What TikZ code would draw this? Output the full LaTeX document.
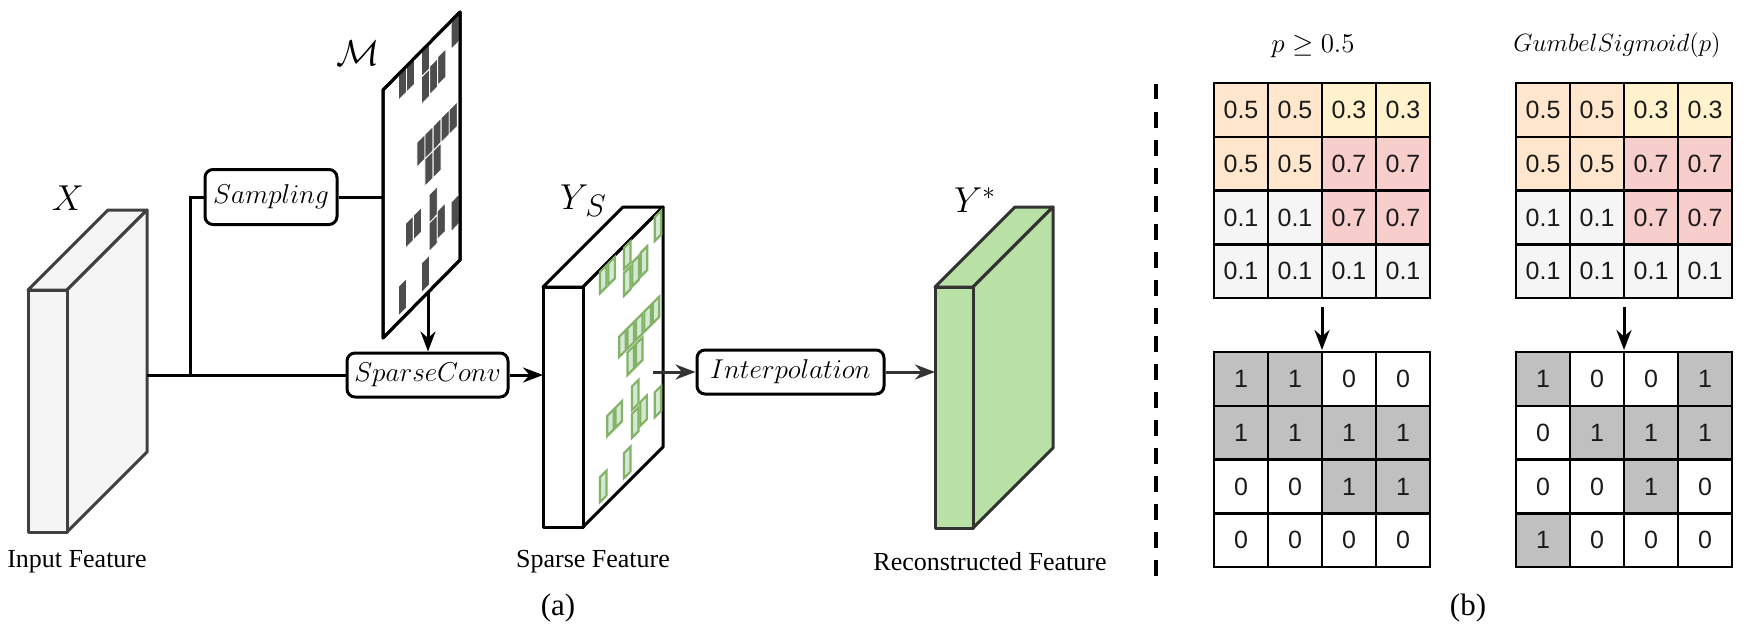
\RequirePackage{fix-cm}
\documentclass[tikz,border=0pt]{standalone}
\usepackage{fontspec}
\setmainfont{Liberation Serif}
\newfontfamily\cellfont{Liberation Sans}
\usetikzlibrary{arrows.meta}
\definecolor{xfill}{HTML}{F5F5F5}
\definecolor{boxgray}{HTML}{404040}
\definecolor{yfill}{HTML}{B9E0A5}
\definecolor{ystroke}{HTML}{333333}
\definecolor{tilefill}{HTML}{D5E8D4}
\definecolor{tiledraw}{HTML}{82B366}
\definecolor{mtile}{HTML}{4D4D4D}
\definecolor{cOr}{HTML}{FFE6CC}
\definecolor{cYe}{HTML}{FFF2CC}
\definecolor{cRe}{HTML}{F8CECC}
\definecolor{cGr}{HTML}{F5F5F5}
\definecolor{cOn}{HTML}{C0C0C0}
\definecolor{txt}{HTML}{1A1A1A}
\definecolor{darkarrow}{HTML}{333333}

% cuboid: #1 xl, #2 xr, #3 yt, #4 yb, #5 fill, #6 draw
\newcommand{\cuboidAt}[6]{%
  \filldraw[fill=#5,draw=#6,line width=1.5pt,line join=round] (#1,#3) -- ++(80,-80) -- ++(#2-#1,0) -- (#2,#3) -- cycle;
  \filldraw[fill=#5,draw=#6,line width=1.5pt,line join=round] (#2,#3) -- ++(80,-80) -- ++(0,#4-#3) -- (#2,#4) -- cycle;
  \filldraw[fill=#5,draw=#6,line width=1.5pt,line join=round] (#1,#3) rectangle (#2,#4);
}
% tiles: #1 x0, #2 y0, #3 dx, #4 dy, #5 H, #6 style, #7 inset u, #8 inset v
\newcommand{\sparsetiles}[8]{%
  \foreach \tu/\tv/\th in {0.885/0/0.115, 0.2/0/0.105, 0.305/0/0.105, 0.5/0/0.105, 0.5/0.105/0.11,
      0.605/0.095/0.115, 0.71/0.09/0.115,
      0.44/0.35/0.1, 0.545/0.35/0.1, 0.65/0.35/0.1, 0.755/0.35/0.1, 0.86/0.35/0.1,
      0.545/0.45/0.11, 0.65/0.45/0.11,
      0.29/0.63/0.1, 0.395/0.63/0.1, 0.6/0.61/0.115, 0.6/0.725/0.115, 0.705/0.71/0.115,
      0.885/0.73/0.12, 0.2/0.855/0.12, 0.5/0.855/0.12}{%
    \path[#6] ({#1+(\tu+#7)*#3},{#2-(\tu+#7)*#4+(\tv+#8)*#5})
      -- ++({(0.105-2*#7)*#3},{-(0.105-2*#7)*#4})
      -- ++(0,{(\th-2*#8)*#5})
      -- ++({-(0.105-2*#7)*#3},{(0.105-2*#7)*#4}) -- cycle;
  }%
}
% grid: #1 name, #2 x0, #3 y0, #4 rows
\newcommand{\drawgrid}[4]{%
  \foreach \row [count=\r from 0] in {#4} {%
    \foreach \cc/\vv [count=\c from 0] in \row {%
      \node[cell, fill=\cc] (#1-\r-\c) at ({#2+27+54*\c},{#3+27+53.75*\r}) {\vv};
    }%
  }%
}

\begin{document}
\begin{tikzpicture}[x=0.5pt,y=-0.5pt,
  conn/.style={line width=1.5pt, draw=black},
  arr/.style={conn, -{Stealth[length=10pt,width=7.5pt]}},
  opbox/.style={draw=black, line width=1.5pt, rounded corners=4pt, fill=white, inner sep=0pt,
    font=\fontsize{13.6}{15}\selectfont},
  lbl/.style={inner sep=0pt, font=\fontsize{13}{15}\selectfont},
  mlbl/.style={inner sep=0pt, font=\fontsize{18}{20}\selectfont},
  cell/.style={draw=black, line width=1.2pt, minimum width=27pt, minimum height=26.9pt,
    inner sep=0pt, text=txt, font=\cellfont\fontsize{12.5}{12.5}\selectfont},
]
\useasboundingbox (0,0) rectangle (1748,642);

% ---------- (a) ----------
% X cuboid
\cuboidAt{28}{67}{290}{532}{xfill}{boxgray}
\node[mlbl] (xlab) at (68,198) {$X$};
\node[lbl] (inlab) at (77,562) {Input Feature};

% M panel
\filldraw[fill=white, draw=black, line width=1.5pt, line join=round]
  (383,90) -- (460,12) -- (460,260) -- (383,338) -- cycle;
\sparsetiles{383}{90}{77}{78}{248}{fill=mtile, draw=white, line width=0.45pt}{0}{0}
\draw[black, line width=1.5pt, line join=round]
  (383,90) -- (460,12) -- (460,260) -- (383,338) -- cycle;
\node[mlbl] (mlab) at (358,53) {$\mathcal{M}$};

% Ys cuboid
\cuboidAt{543}{583}{287}{527}{white}{black}
\sparsetiles{583}{287}{80}{80}{240}{fill=tilefill, draw=tiledraw, line width=1.1pt}{0.012}{0.008}
\node[mlbl] (yslab) at (583,201) {$Y$\kern-1.5pt\raisebox{-0.2em}{\fontsize{15.5}{15}\selectfont$S$}};
\node[lbl] (splab) at (593,562) {Sparse Feature};

% Y* cuboid
\cuboidAt{935}{973}{287}{528}{yfill}{ystroke}
\node[mlbl] (ystarlab) at (975,200) {$Y^*$};
\node[lbl] (reclab) at (990,562) {Reconstructed Feature};

% operation boxes
\node[opbox, minimum width=66pt, minimum height=27.5pt] (sampling) at (271,197) {$Sampling$};
\node[opbox, minimum width=80.5pt, minimum height=22pt] (sparse) at (427.5,375) {$SparseConv$};
\node[opbox, minimum width=93.5pt, minimum height=22pt] (interp) at (790.5,372) {$Interpolation$};

% connectors
\coordinate (xout) at (147,375);
\coordinate (br) at (190,375);
\coordinate (mleft) at (383,197);
\coordinate (mbot) at (428,292);
\coordinate (ysin) at (543,375);
\coordinate (ysout) at (653,372);
\coordinate (ystarin) at (935,372);
\draw[conn] (xout) -- (sparse.west);
\draw[conn] (br) |- (sampling.west);
\draw[conn] (sampling.east) -- (mleft);
\draw[arr] (mbot) -- (mbot |- sparse.north);
\draw[arr] (sparse.east) -- (ysin);
\draw[arr, draw=darkarrow] (ysout) -- (interp.west);
\draw[arr, draw=darkarrow] (interp.east) -- (ystarin);

\node[inner sep=0pt, font=\fontsize{15.5}{17}\selectfont] (capa) at (558,608) {(a)};

% ---------- divider ----------
\coordinate (d1) at (1156,84);
\coordinate (d2) at (1156,576);
\draw[line width=2pt, dash pattern=on 7.75pt off 6.25pt] (d1) -- (d2);

% ---------- (b) ----------
\node[inner sep=0pt, font=\fontsize{13.5}{15}\selectfont] (t1) at (1313,46) {$p \geq 0.5$};
\node[inner sep=0pt, font=\fontsize{12.5}{14}\selectfont] (t2) at (1617,45) {$GumbelSigmoid(p)$};

\drawgrid{pa}{1214}{83}{{cOr/0.5,cOr/0.5,cYe/0.3,cYe/0.3},{cOr/0.5,cOr/0.5,cRe/0.7,cRe/0.7},{cGr/0.1,cGr/0.1,cRe/0.7,cRe/0.7},{cGr/0.1,cGr/0.1,cGr/0.1,cGr/0.1}}
\drawgrid{pb}{1516}{83}{{cOr/0.5,cOr/0.5,cYe/0.3,cYe/0.3},{cOr/0.5,cOr/0.5,cRe/0.7,cRe/0.7},{cGr/0.1,cGr/0.1,cRe/0.7,cRe/0.7},{cGr/0.1,cGr/0.1,cGr/0.1,cGr/0.1}}
\drawgrid{ba}{1214}{352}{{cOn/1,cOn/1,white/0,white/0},{cOn/1,cOn/1,cOn/1,cOn/1},{white/0,white/0,cOn/1,cOn/1},{white/0,white/0,white/0,white/0}}
\drawgrid{bb}{1516}{352}{{cOn/1,white/0,white/0,cOn/1},{white/0,cOn/1,cOn/1,cOn/1},{white/0,white/0,cOn/1,white/0},{cOn/1,white/0,white/0,white/0}}

\coordinate (aa1) at (1322,307);
\coordinate (aa2) at (1322,350);
\coordinate (ab1) at (1624,307);
\coordinate (ab2) at (1624,350);
\draw[arr] (aa1) -- (aa2);
\draw[arr] (ab1) -- (ab2);

\node[inner sep=0pt, font=\fontsize{15.5}{17}\selectfont] (capb) at (1468,608) {(b)};
\end{tikzpicture}
\end{document}
